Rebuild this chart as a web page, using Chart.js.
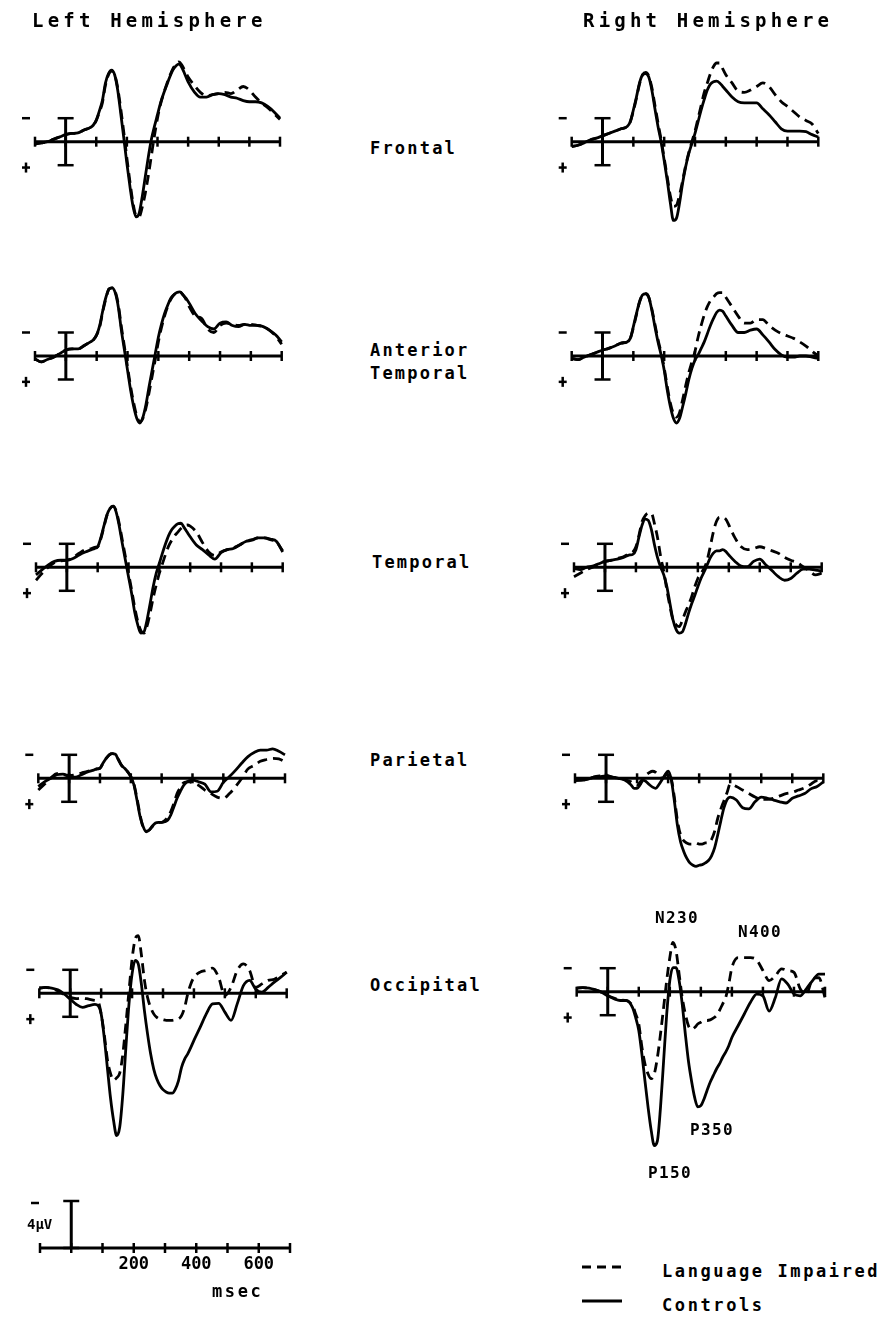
<!DOCTYPE html>
<html>
<head>
<meta charset="utf-8">
<script src="https://cdn.jsdelivr.net/npm/chart.js@4.4.1/dist/chart.umd.min.js"></script>
<style>
  html, body { margin: 0; padding: 0; background: #fff; }
  #page { position: relative; width: 885px; height: 1326px; overflow: hidden; background: #fff; }
  #page canvas { position: absolute; pointer-events: none; }
  .lbl { position: absolute; font-family: "DejaVu Sans Mono", monospace; font-weight: bold; color: #000;
         white-space: nowrap; line-height: 1; transform: translateY(-50%); }
  .title { font-size: 19px; letter-spacing: 4.2px; }
  .region { font-size: 17px; letter-spacing: 2.2px; }
  .peak { font-size: 16px; letter-spacing: 1.4px; }
  .legend { font-size: 17px; letter-spacing: 2.6px; }
  .unit { font-size: 14px; letter-spacing: 0px; }
</style>
</head>
<body>
<div id="page"></div>
<script>
// Sample times (ms) shared by every trace
const TIMES = [-100, -80, -60, -40, -20, 0, 20, 40, 60, 80,
  90, 100, 110, 120, 130, 140, 150, 160, 170, 180, 190, 200, 210, 220, 230, 240, 250, 260, 270, 280, 290, 300,
  310, 320, 330, 340, 350, 360, 370, 380, 390, 400,
  420, 440, 460, 480, 500, 520, 540, 560, 580, 600, 620, 640, 660, 680, 700];
const TICK_TIMES = [-100, 0, 100, 200, 300, 400, 500, 600, 700];
const SCALE_LABELS = [200, 400, 600];
const CAL_UV = 4; // calibration bar height

// Amplitudes in microvolts (negative plotted up)
const leftFrontalControls = [0.2, 0.1, 0, -0.2, -0.4, -0.6, -0.7, -0.75, -1.0, -1.2,
  -1.4, -1.85, -2.6, -3.5, -5.0, -5.8, -6.1, -5.7, -4.4, -2.4, -0.3, 1.85, 3.8, 5.5, 6.4, 6.1, 4.7, 3.0, 1.3, -0.2, -1.3, -2.3,
  -3.3, -4.1, -4.8, -5.5, -6.1, -6.45, -6.6, -6.3, -5.7, -5.1,
  -4.25, -3.8, -3.8, -4.0, -4.1, -4.0, -3.8, -3.7, -3.5, -3.4, -3.4, -3.3, -3.0, -2.55, -2.0];
const leftFrontalImpaired = [0.2, 0.1, 0, -0.2, -0.4, -0.6, -0.7, -0.75, -1.0, -1.2,
  -1.4, -1.8, -2.5, -3.3, -4.8, -5.7, -6.0, -5.7, -4.6, -2.8, -0.8, 1.4, 3.4, 5.2, 6.3, 6.4, 5.6, 4.4, 2.9, 1.2, -0.5, -2.0,
  -3.2, -4.1, -4.9, -5.6, -6.2, -6.6, -6.8, -6.5, -6.0, -5.5,
  -4.8, -4.2, -3.9, -4.0, -4.1, -4.2, -4.1, -4.4, -4.7, -4.4, -3.8, -3.3, -2.9, -2.4, -1.9];

const rightFrontalControls = [0.4, 0.3, 0.1, -0.15, -0.3, -0.5, -0.7, -0.9, -1.1, -1.3,
  -1.7, -2.7, -3.8, -5.0, -5.7, -5.8, -5.5, -4.4, -2.8, -1.3, 0, 1.6, 3.3, 5.2, 6.7, 6.5, 5.2, 3.5, 2.1, 1.0, 0.15, -0.7,
  -1.7, -2.7, -3.6, -4.4, -4.9, -5.1, -5.15, -5.0, -4.7, -4.4,
  -3.8, -3.4, -3.3, -3.3, -3.3, -2.8, -2.3, -1.7, -1.1, -0.9, -0.9, -0.9, -0.85, -0.6, -0.4];
const rightFrontalImpaired = [0.4, 0.3, 0.1, -0.15, -0.3, -0.5, -0.7, -0.9, -1.1, -1.3,
  -1.7, -2.6, -3.7, -4.9, -5.7, -5.9, -5.6, -4.6, -3.1, -1.6, -0.2, 1.4, 3.0, 4.6, 5.5, 5.4, 4.5, 3.3, 2.0, 0.9, 0.0, -0.9,
  -2.0, -3.1, -4.2, -5.0, -5.8, -6.4, -6.7, -6.7, -6.2, -5.7,
  -5.0, -4.3, -4.2, -4.4, -4.7, -5.0, -4.7, -4.0, -3.4, -3.0, -2.55, -2.1, -1.8, -1.5, -0.7];

const leftAntTempControls = [0.25, 0.5, 0.3, 0.1, -0.2, -0.5, -0.6, -0.6, -0.9, -1.2,
  -1.4, -1.8, -2.6, -3.9, -5.0, -5.7, -5.8, -5.4, -4.2, -2.2, -0.5, 1.2, 2.9, 4.3, 5.3, 5.7, 5.2, 4.1, 2.6, 1.2, -0.2, -1.6,
  -2.7, -3.6, -4.3, -4.9, -5.2, -5.4, -5.45, -5.2, -4.9, -4.5,
  -3.6, -3.0, -2.5, -2.3, -2.8, -2.9, -2.6, -2.5, -2.7, -2.6, -2.6, -2.5, -2.2, -1.8, -1.2];
const leftAntTempImpaired = [0.25, 0.5, 0.3, 0.1, -0.2, -0.5, -0.6, -0.6, -0.9, -1.2,
  -1.4, -1.8, -2.5, -3.8, -4.9, -5.7, -5.8, -5.5, -4.4, -2.5, -0.8, 0.9, 2.6, 4.0, 5.1, 5.6, 5.3, 4.4, 3.1, 1.7, 0.3, -1.2,
  -2.4, -3.4, -4.2, -4.8, -5.2, -5.4, -5.45, -5.2, -4.8, -4.2,
  -3.4, -3.2, -2.3, -2.0, -2.6, -2.8, -2.7, -2.6, -2.7, -2.7, -2.6, -2.5, -2.2, -1.7, -1.0];

const rightAntTempControls = [0.2, 0.3, 0.1, -0.1, -0.3, -0.5, -0.65, -0.85, -1.1, -1.2,
  -1.5, -2.5, -3.6, -4.6, -5.2, -5.3, -5.0, -3.9, -2.5, -1.2, -0.1, 1.2, 2.9, 4.3, 5.3, 5.7, 5.3, 4.3, 3.2, 2.0, 1.05, 0.35,
  -0.1, -0.65, -1.2, -1.9, -2.6, -3.2, -3.7, -3.9, -3.8, -3.4,
  -2.6, -2.0, -2.0, -2.2, -2.3, -1.8, -1.2, -0.55, -0.1, 0.1, 0.1, 0, 0, 0.1, 0.2];
const rightAntTempImpaired = [0.2, 0.3, 0.1, -0.1, -0.3, -0.5, -0.65, -0.85, -1.1, -1.2,
  -1.5, -2.4, -3.5, -4.6, -5.2, -5.3, -5.0, -4.0, -2.7, -1.4, -0.3, 1.0, 2.6, 4.0, 4.9, 5.2, 4.8, 3.7, 2.5, 1.4, 0.5, -0.4,
  -1.6, -2.6, -3.5, -4.2, -4.7, -5.0, -5.3, -5.4, -5.4, -5.0,
  -4.2, -3.4, -2.8, -2.8, -3.1, -3.1, -2.6, -2.2, -1.9, -1.7, -1.5, -1.2, -0.85, -0.4, 0];

const leftTemporalControls = [0.65, 0.2, -0.2, -0.5, -0.6, -0.6, -0.75, -1.05, -1.3, -1.5,
  -1.6, -1.75, -2.5, -3.5, -4.45, -5.0, -5.2, -4.7, -3.5, -2.0, -0.6, 0.8, 2.2, 3.8, 4.9, 5.6, 5.5, 4.5, 3.1, 1.65, 0.5, -0.35,
  -1.2, -2.0, -2.7, -3.2, -3.5, -3.7, -3.75, -3.4, -3.0, -2.6,
  -1.9, -1.5, -1.05, -0.7, -1.25, -1.5, -1.6, -1.9, -2.2, -2.3, -2.5, -2.5, -2.4, -2.2, -1.3];
const leftTemporalImpaired = [1.1, 0.5, 0, -0.4, -0.55, -0.6, -0.85, -1.2, -1.5, -1.6,
  -1.7, -1.75, -2.4, -3.4, -4.4, -5.0, -5.2, -4.8, -3.7, -2.3, -0.9, 0.5, 1.9, 3.4, 4.6, 5.4, 5.6, 5.0, 3.9, 2.6, 1.5, 0.5,
  -0.3, -1.1, -1.8, -2.3, -2.7, -3.0, -3.3, -3.5, -3.6, -3.5,
  -3.0, -2.1, -1.3, -1.0, -1.3, -1.5, -1.65, -1.9, -2.2, -2.35, -2.5, -2.5, -2.35, -2.15, -1.4];

const rightTemporalControls = [0.1, 0.2, 0, -0.1, -0.3, -0.5, -0.6, -0.7, -0.85, -1.05,
  -1.1, -1.5, -2.6, -3.6, -4.1, -4.0, -3.2, -1.9, -0.8, 0, 0.65, 1.65, 3.1, 4.5, 5.3, 5.6, 5.5, 4.8, 3.9, 3.1, 2.4, 1.65,
  0.95, 0.4, -0.2, -0.8, -1.2, -1.4, -1.4, -1.5, -1.35, -1.05,
  -0.5, -0.1, -0.05, -0.5, -0.7, -0.2, 0.3, 0.8, 1.1, 0.95, 0.5, 0.15, 0.15, 0.25, 0.3];
const rightTemporalImpaired = [0.8, 0.5, 0.2, 0, -0.3, -0.5, -0.6, -0.75, -0.9, -1.2,
  -1.3, -1.75, -2.75, -3.9, -4.4, -4.6, -4.6, -3.7, -2.5, -0.9, 0.35, 1.95, 3.35, 4.5, 4.9, 5.05, 4.5, 3.8, 3.2, 2.5, 1.65, 0.95,
  0.5, 0.1, -0.6, -1.75, -3.0, -3.9, -4.25, -4.25, -4.1, -3.6,
  -2.5, -1.75, -1.5, -1.6, -1.75, -1.6, -1.4, -1.2, -0.85, -0.6, -0.4, -0.05, 0.3, 0.65, 0.5];

const leftParietalControls = [0.7, 0.3, 0, -0.3, -0.35, -0.15, -0.1, -0.3, -0.55, -0.7,
  -0.8, -0.85, -1.3, -1.7, -2.0, -2.1, -2.05, -1.55, -1.1, -0.85, -0.55, -0.15, 0.55, 1.85, 3.25, 4.1, 4.55, 4.4, 4.05, 3.8, 3.75, 3.75,
  3.7, 3.55, 3.1, 2.4, 1.7, 1.15, 0.65, 0.35, 0.2, 0.15,
  0.3, 0.5, 1.15, 1.1, 0.35, -0.15, -0.7, -1.3, -1.85, -2.2, -2.4, -2.4, -2.5, -2.3, -2.0];
const leftParietalImpaired = [1.0, 0.5, 0, -0.4, -0.3, -0.25, -0.3, -0.45, -0.6, -0.7,
  -0.8, -0.85, -1.3, -1.7, -2.0, -2.1, -2.0, -1.6, -1.1, -0.85, -0.55, -0.15, 0.5, 1.7, 3.1, 4.2, 4.5, 4.4, 4.1, 3.9, 3.75, 3.75,
  3.6, 3.3, 2.8, 2.1, 1.3, 0.8, 0.4, 0.3, 0.3, 0.4,
  0.6, 1.0, 1.3, 1.6, 1.7, 1.3, 0.7, 0.0, -0.8, -1.1, -1.45, -1.6, -1.7, -1.65, -1.4];

const rightParietalControls = [0.15, 0.15, 0.1, -0.1, -0.15, -0.2, -0.1, 0, 0.15, 0.55,
  0.85, 0.85, 0.55, 0.15, 0.3, 0.55, 0.75, 0.85, 0.55, 0.15, -0.3, -0.6, 0.1, 1.9, 4.0, 5.4, 6.2, 6.8, 7.2, 7.4, 7.5, 7.4,
  7.35, 7.2, 7.0, 6.6, 5.9, 4.8, 3.6, 2.5, 1.8, 1.6,
  1.85, 2.5, 2.6, 2.0, 1.6, 1.7, 1.85, 2.0, 2.1, 1.7, 1.5, 1.3, 0.9, 0.7, 0.3];
const rightParietalImpaired = [0.2, 0.15, 0.1, -0.1, -0.2, -0.25, -0.1, 0, 0.1, 0.3,
  0.5, 0.6, 0.3, 0, -0.3, -0.5, -0.6, -0.5, -0.2, 0.0, -0.2, -0.5, 0.0, 1.6, 3.6, 4.8, 5.3, 5.5, 5.6, 5.6, 5.5, 5.6,
  5.6, 5.5, 5.5, 5.2, 4.5, 3.4, 2.6, 1.9, 1.2, 0.5,
  0.7, 1.0, 1.3, 1.6, 1.8, 1.8, 1.7, 1.5, 1.3, 1.2, 1.0, 0.8, 0.5, 0.2, 0.3];

const leftOccipitalControls = [-0.45, -0.5, -0.45, -0.3, 0.05, 0.5, 0.95, 1.2, 1.05, 0.95,
  1.05, 1.75, 3.75, 6.3, 8.85, 10.8, 12.1, 11.4, 8.6, 4.6, 0.9, -1.65, -2.8, -2.5, -0.8, 1.5, 3.45, 5.15, 6.45, 7.3, 7.85, 8.2,
  8.4, 8.5, 8.5, 8.15, 7.45, 6.3, 5.6, 5.15, 4.6, 4.0,
  2.9, 1.75, 0.9, 0.85, 1.6, 2.3, 0.9, -0.65, -1.1, -0.35, -0.1, -0.5, -0.95, -1.35, -1.8];
const leftOccipitalImpaired = [-0.45, -0.5, -0.4, -0.2, 0.1, 0.35, 0.45, 0.4, 0.5, 0.6,
  0.7, 1.75, 3.5, 5.6, 6.8, 7.4, 7.2, 6.8, 5.2, 2.6, -0.2, -2.9, -4.6, -4.9, -3.3, -1.1, 0.35, 1.2, 1.75, 2.05, 2.2, 2.25,
  2.3, 2.3, 2.3, 2.25, 2.2, 1.9, 1.2, 0.05, -0.8, -1.35,
  -1.8, -1.95, -2.15, -1.35, 0.2, -0.5, -1.95, -2.5, -1.95, -0.5, -0.8, -1.1, -1.2, -1.5, -1.8];

const rightOccipitalControls = [-0.3, -0.35, -0.3, -0.15, 0.05, 0.35, 0.6, 0.75, 0.75, 1.35,
  2.2, 3.3, 5.3, 7.6, 9.85, 11.8, 13.1, 12.7, 9.85, 5.9, 1.9, -0.95, -2.05, -2.05, -0.95, 1.05, 3.6, 5.9, 7.6, 9.0, 9.8, 9.7,
  9.15, 8.4, 7.7, 7.15, 6.6, 6.15, 5.6, 5.15, 4.6, 3.9,
  2.9, 1.9, 0.9, 0.2, 0.35, 1.65, 0.5, -1.1, -0.65, 0.2, 0.35, -0.25, -0.95, -1.5, -1.5];
const rightOccipitalImpaired = [-0.3, -0.35, -0.3, -0.15, 0.05, 0.35, 0.55, 0.7, 0.75, 1.2,
  1.9, 2.75, 4.7, 6.15, 7.0, 7.4, 7.0, 5.6, 3.6, 1.35, -0.95, -2.9, -4.2, -3.5, -1.5, 0.5, 1.9, 2.9, 3.2, 3.05, 2.75, 2.6,
  2.45, 2.45, 2.4, 2.25, 2.05, 1.6, 1.05, 0.5, -0.65, -2.05,
  -2.9, -2.9, -2.9, -2.7, -1.8, -0.95, -1.35, -1.95, -1.8, -1.65, -0.25, 0.2, -1.1, -1.2, 0.5];

// Page layout: pixel of -100 ms (x0), of 700 ms (x1) and of the 0 uV baseline
const PX_PER_UV = 11.75;
const PANELS = [
  { x0: 35, x1: 280, base: 141.7, impaired: leftFrontalImpaired, controls: leftFrontalControls },
  { x0: 571.7, x1: 818.3, base: 141.7, impaired: rightFrontalImpaired, controls: rightFrontalControls },
  { x0: 35, x1: 281.7, base: 356, impaired: leftAntTempImpaired, controls: leftAntTempControls },
  { x0: 571.7, x1: 818.3, base: 356, impaired: rightAntTempImpaired, controls: rightAntTempControls },
  { x0: 36, x1: 282.7, base: 567.3, impaired: leftTemporalImpaired, controls: leftTemporalControls },
  { x0: 574, x1: 821.7, base: 567.3, impaired: rightTemporalImpaired, controls: rightTemporalControls },
  { x0: 38.3, x1: 285, base: 778.3, impaired: leftParietalImpaired, controls: leftParietalControls },
  { x0: 575, x1: 823.3, base: 778.3, impaired: rightParietalImpaired, controls: rightParietalControls },
  { x0: 39.3, x1: 286.7, base: 993.3, impaired: leftOccipitalImpaired, controls: leftOccipitalControls },
  { x0: 576.7, x1: 825, base: 991.7, impaired: rightOccipitalImpaired, controls: rightOccipitalControls }
];
const SCALE_PANEL = { x0: 40, x1: 290, base: 1248 };

const TEXTS = [
  { t: 'Left Hemisphere', cls: 'title', x: 32, y: 20 },
  { t: 'Right Hemisphere', cls: 'title', x: 583, y: 20 },
  { t: 'Frontal', cls: 'region', x: 370, y: 148 },
  { t: 'Anterior', cls: 'region', x: 370, y: 350 },
  { t: 'Temporal', cls: 'region', x: 370, y: 373 },
  { t: 'Temporal', cls: 'region', x: 372, y: 562 },
  { t: 'Parietal', cls: 'region', x: 370, y: 760 },
  { t: 'Occipital', cls: 'region', x: 370, y: 985 },
  { t: 'N230', cls: 'peak', x: 655, y: 918 },
  { t: 'N400', cls: 'peak', x: 738, y: 932 },
  { t: 'P350', cls: 'peak', x: 690, y: 1130 },
  { t: 'P150', cls: 'peak', x: 648, y: 1173 },
  { t: 'Language Impaired', cls: 'legend', x: 662, y: 1271 },
  { t: 'Controls', cls: 'legend', x: 662, y: 1305 },
  { t: '4\u00b5V', cls: 'unit', x: 27, y: 1224 },
  { t: 'msec', cls: 'legend', x: 212, y: 1291 }
];

function seg(ctx, ax, ay, bx, by) {
  ctx.beginPath();
  ctx.moveTo(ax, ay);
  ctx.lineTo(bx, by);
  ctx.stroke();
}

// Draws baseline, 100 ms ticks, calibration bar and polarity signs
const erpFrame = {
  id: 'erpFrame',
  beforeDatasetsDraw(chart, args, opts) {
    const { ctx, scales: { x, y } } = chart;
    const y0 = y.getPixelForValue(0);
    const xa = x.getPixelForValue(TICK_TIMES[0]);
    const xb = x.getPixelForValue(TICK_TIMES[TICK_TIMES.length - 1]);
    ctx.save();
    ctx.strokeStyle = '#000';
    ctx.fillStyle = '#000';
    ctx.lineWidth = 3;
    seg(ctx, xa, y0, xb, y0);
    ctx.lineWidth = 2.5;
    TICK_TIMES.forEach(t => {
      const px = x.getPixelForValue(t);
      seg(ctx, px, y0 - 5, px, y0 + 5);
    });
    const bx = x.getPixelForValue(0);
    const top = y.getPixelForValue(opts.barFrom);
    const bot = y.getPixelForValue(opts.barTo);
    ctx.lineWidth = 3;
    seg(ctx, bx, top, bx, bot);
    ctx.lineWidth = 2.5;
    seg(ctx, bx - 8, top, bx + 8, top);
    seg(ctx, bx - 8, bot, bx + 8, bot);
    if (opts.signs) {
      const sx = xa - 9;
      const ym = y.getPixelForValue(-2);
      const yp = y.getPixelForValue(2.2);
      seg(ctx, sx - 4, ym, sx + 4, ym);
      seg(ctx, sx - 4, yp, sx + 4, yp);
      seg(ctx, sx, yp - 5, sx, yp + 5);
    }
    if (opts.labels) {
      ctx.font = 'bold 17px "DejaVu Sans Mono"';
      ctx.textAlign = 'center';
      ctx.textBaseline = 'top';
      opts.labels.forEach(v => ctx.fillText(String(v), x.getPixelForValue(v), y0 + 8));
      const mx = xa - 5;
      seg(ctx, mx - 4, top + 2, mx + 4, top + 2);
    }
    ctx.restore();
  }
};

const page = document.getElementById('page');

function makeCanvas(p) {
  const ppm = (p.x1 - p.x0) / 800;
  const left = Math.round(p.x0 - 22);
  const width = Math.round(p.x1 - p.x0 + 44);
  const top = Math.round(p.base - 115);
  const height = 300;
  const c = document.createElement('canvas');
  c.width = width; c.height = height;
  c.style.left = left + 'px'; c.style.top = top + 'px';
  c.style.width = width + 'px'; c.style.height = height + 'px';
  page.appendChild(c);
  return {
    canvas: c,
    xmin: TICK_TIMES[0] - (p.x0 - left) / ppm,
    xmax: TICK_TIMES[TICK_TIMES.length - 1] + (left + width - p.x1) / ppm,
    ymin: -(p.base - top) / PX_PER_UV,
    ymax: (top + height - p.base) / PX_PER_UV
  };
}

function chartOptions(g, frame) {
  return {
    responsive: false,
    animation: false,
    devicePixelRatio: 1,
    events: [],
    layout: { padding: 0 },
    elements: { point: { radius: 0 } },
    scales: {
      x: { type: 'linear', min: g.xmin, max: g.xmax, display: false },
      y: { type: 'linear', min: g.ymin, max: g.ymax, reverse: true, display: false }
    },
    plugins: { legend: { display: false }, tooltip: { enabled: false }, erpFrame: frame }
  };
}

function trace(values, dash) {
  return {
    data: TIMES.map((t, i) => ({ x: t, y: values[i] })),
    borderColor: '#000',
    borderWidth: 2.8,
    borderDash: dash,
    cubicInterpolationMode: 'monotone',
    fill: false,
    clip: false
  };
}

PANELS.forEach(p => {
  const g = makeCanvas(p);
  new Chart(g.canvas, {
    type: 'line',
    data: { datasets: [trace(p.impaired, [10, 6]), trace(p.controls, [])] },
    options: chartOptions(g, { barFrom: -CAL_UV / 2, barTo: CAL_UV / 2, signs: true }),
    plugins: [erpFrame]
  });
});

// Calibration axis (4 uV, msec)
{
  const g = makeCanvas(SCALE_PANEL);
  new Chart(g.canvas, {
    type: 'line',
    data: { datasets: [] },
    options: chartOptions(g, { barFrom: -CAL_UV, barTo: 0, signs: false, labels: SCALE_LABELS }),
    plugins: [erpFrame]
  });
}

TEXTS.forEach(d => {
  const el = document.createElement('div');
  el.className = 'lbl ' + d.cls;
  el.textContent = d.t;
  el.style.left = d.x + 'px';
  el.style.top = d.y + 'px';
  page.appendChild(el);
});

// Legend line samples
{
  const c = document.createElement('canvas');
  c.width = 50; c.height = 50;
  c.style.left = '578px'; c.style.top = '1258px';
  page.appendChild(c);
  const ctx = c.getContext('2d');
  ctx.strokeStyle = '#000';
  ctx.lineWidth = 3;
  ctx.setLineDash([9, 6]);
  seg(ctx, 4, 9, 46, 9);
  ctx.setLineDash([]);
  seg(ctx, 4, 43, 44, 43);
}
</script>
</body>
</html>
